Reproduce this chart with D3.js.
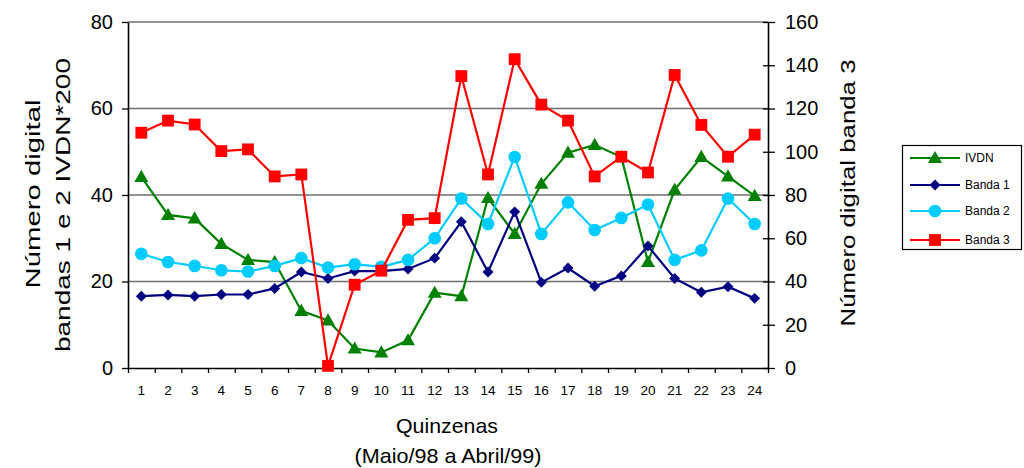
<!DOCTYPE html>
<html>
<head>
<meta charset="utf-8">
<script src="https://cdn.jsdelivr.net/npm/d3@7"></script>
<style>
  html, body { margin: 0; padding: 0; background: #fff; }
  svg { display: block; font-family: "Liberation Sans", Arial, sans-serif; }
</style>
</head>
<body>
<svg id="chart" width="1024" height="468"></svg>
<script>
const categories = d3.range(1, 25).map(String);
const ivdn   = [44.2, 35.4, 34.6, 28.7, 25.0, 24.5, 13.2, 11.0, 4.5, 3.6, 6.4, 17.4,
                16.6, 39.3, 31.0, 42.6, 49.8, 51.6, 48.8, 24.5, 41.2, 48.8, 44.3, 39.8];
const banda1 = [16.6, 16.9, 16.6, 17.0, 17.0, 18.4, 22.2, 20.7, 22.4, 22.4, 22.9, 25.4,
                33.8, 22.2, 36.1, 19.8, 23.1, 18.9, 21.3, 28.2, 20.7, 17.5, 18.8, 16.1];
const banda2 = [26.4, 24.5, 23.6, 22.6, 22.3, 23.6, 25.4, 23.2, 24.0, 23.4, 25.0, 30.0,
                39.2, 33.3, 48.8, 31.0, 38.3, 31.9, 34.7, 37.8, 25.0, 27.2, 39.2, 33.3];
const banda3 = [108.8, 114.4, 112.6, 100.3, 101.1, 88.6, 89.5, 1.0, 38.5, 45.0, 68.5, 69.3,
                135.0, 89.5, 142.8, 121.8, 114.4, 88.6, 97.7, 90.4, 135.5, 112.4, 97.7, 107.9];
const leftTicks = [0, 20, 40, 60, 80];
const rightTicks = [0, 20, 40, 60, 80, 100, 120, 140, 160];
const seriesNames = ["IVDN", "Banda 1", "Banda 2", "Banda 3"];

const svg = d3.select("#chart");
const L = 128, R = 768, T = 22, B = 368;

const x = d3.scaleBand().domain(categories).range([L, R]);
const xb = d3.scaleLinear().domain([0, categories.length]).range([L, R]);
const yL = d3.scaleLinear().domain([0, 80]).range([B, T]);
const yR = d3.scaleLinear().domain([0, 160]).range([B, T]);
const cx = c => x(c) + x.bandwidth() / 2;

// gridlines
svg.append("g").selectAll("line").data(leftTicks.filter(v => v > 0)).join("line")
  .attr("x1", L).attr("x2", R).attr("y1", d => yL(d)).attr("y2", d => yL(d))
  .attr("stroke", "#6e6e6e").attr("stroke-width", 1.3);

// axes
const axL = svg.append("g").attr("transform", `translate(${L},0)`)
  .call(d3.axisLeft(yL).tickValues(leftTicks).tickSizeInner(6).tickSizeOuter(0).tickPadding(9));
const axR = svg.append("g").attr("transform", `translate(${R},0)`)
  .call(d3.axisRight(yR).tickValues(rightTicks).tickSizeInner(7).tickSizeOuter(0).tickPadding(10));
axR.selectAll(".tick line").attr("x1", -5);
const axB = svg.append("g").attr("transform", `translate(0,${B})`)
  .call(d3.axisBottom(xb).tickValues(d3.range(0, categories.length + 1)).tickFormat("").tickSizeInner(5).tickSizeOuter(0));
const axBL = svg.append("g").attr("transform", `translate(0,${B})`)
  .call(d3.axisBottom(x).tickSize(0).tickPadding(17));
axBL.select(".domain").remove();

[axL, axR, axB].forEach(a => {
  a.select(".domain").attr("stroke", "#000").attr("stroke-width", 1.6);
  a.selectAll(".tick line").attr("stroke", "#000").attr("stroke-width", 1.3);
});
axL.selectAll("text").attr("font-size", 20).attr("fill", "#000").attr("font-family", "Liberation Sans, Arial, sans-serif");
axR.selectAll("text").attr("font-size", 20).attr("fill", "#000").attr("font-family", "Liberation Sans, Arial, sans-serif");
axBL.selectAll("text").attr("font-size", 13.5).attr("fill", "#000").attr("font-family", "Liberation Sans, Arial, sans-serif");

// series
const series = [
  { name: seriesNames[0], values: ivdn,   y: yL, color: "#008000", shape: "tri" },
  { name: seriesNames[1], values: banda1, y: yL, color: "#000080", shape: "dia" },
  { name: seriesNames[2], values: banda2, y: yL, color: "#00CCFF", shape: "circ" },
  { name: seriesNames[3], values: banda3, y: yR, color: "#FF0000", shape: "sq" }
];
const symbolFor = {
  tri: d3.symbol().type(d3.symbolTriangle).size(85),
  dia: d3.symbol().type(d3.symbolSquare).size(60),
  circ: d3.symbol().type(d3.symbolCircle).size(125),
  sq: d3.symbol().type(d3.symbolSquare).size(140)
};
const markTransform = (shape, px, py) =>
  shape === "dia" ? `translate(${px},${py}) rotate(45)` :
  shape === "tri" ? `translate(${px},${py + 1})` : `translate(${px},${py})`;

series.forEach(s => {
  const g = svg.append("g");
  const line = d3.line().x((d, i) => cx(categories[i])).y(d => s.y(d));
  g.append("path").datum(s.values).attr("d", line)
    .attr("fill", "none").attr("stroke", s.color).attr("stroke-width", 2.2);
  g.selectAll("path.m").data(s.values).join("path").attr("class", "m")
    .attr("d", symbolFor[s.shape])
    .attr("transform", (d, i) => markTransform(s.shape, cx(categories[i]), s.y(d)))
    .attr("fill", s.color);
});

// axis titles
function rotText(cxp, cyp, str, len, size) {
  svg.append("text")
    .attr("transform", `translate(${cxp},${cyp}) rotate(-90)`)
    .attr("text-anchor", "middle")
    .attr("font-size", size)
    .attr("textLength", len).attr("lengthAdjust", "spacingAndGlyphs")
    .attr("fill", "#000")
    .text(str);
}
rotText(40, 194, "Número digital", 189, 21);
rotText(70, 205, "bandas 1 e 2 IVDN*200", 294, 21);
rotText(855, 193, "Número digital banda 3", 267, 21);

svg.append("text").attr("x", 447).attr("y", 433).attr("text-anchor", "middle")
  .attr("font-size", 21).attr("textLength", 102).attr("lengthAdjust", "spacingAndGlyphs")
  .text("Quinzenas");
svg.append("text").attr("x", 448).attr("y", 463).attr("text-anchor", "middle")
  .attr("font-size", 21).attr("textLength", 187).attr("lengthAdjust", "spacingAndGlyphs")
  .text("(Maio/98 a Abril/99)");

// legend
const lg = svg.append("g");
lg.append("rect").attr("x", 902.5).attr("y", 145.5).attr("width", 119).attr("height", 104)
  .attr("fill", "#fff").attr("stroke", "#000").attr("stroke-width", 1.2);
const legY = [158, 185, 211, 240];
series.forEach((s, i) => {
  lg.append("line").attr("x1", 910).attr("x2", 960).attr("y1", legY[i]).attr("y2", legY[i])
    .attr("stroke", s.color).attr("stroke-width", 2.2);
  lg.append("path").attr("d", symbolFor[s.shape])
    .attr("transform", markTransform(s.shape, 935, legY[i])).attr("fill", s.color);
  lg.append("text").attr("x", 965).attr("y", legY[i]).attr("dy", "0.36em")
    .attr("font-size", 12).attr("fill", "#000").text(s.name);
});
</script>
</body>
</html>
